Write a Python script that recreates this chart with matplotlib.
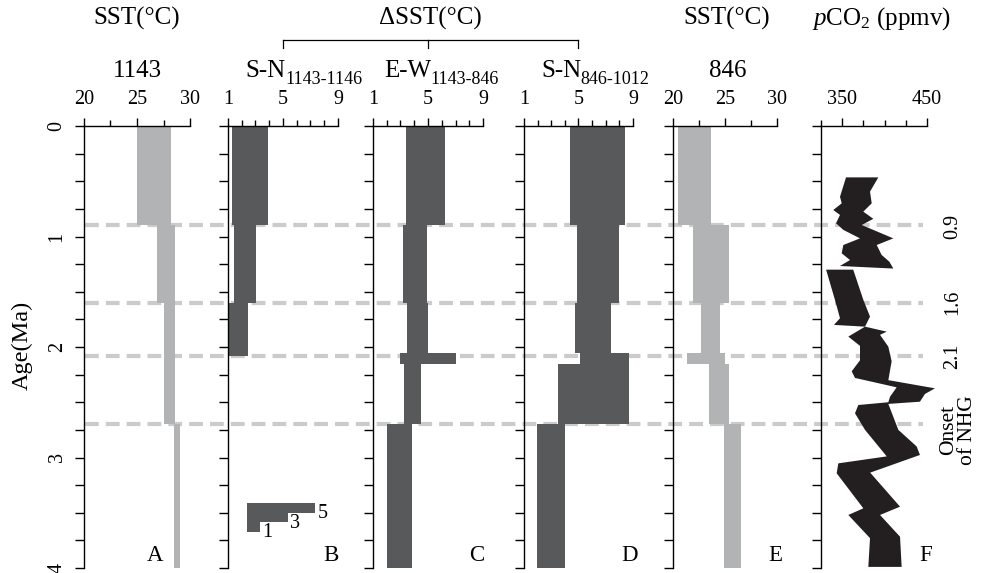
import matplotlib
matplotlib.use("Agg")
import matplotlib.pyplot as plt
from matplotlib.lines import Line2D
from matplotlib.transforms import blended_transform_factory

plt.rcParams['font.family'] = ['Liberation Serif', 'DejaVu Serif']
plt.rcParams['mathtext.fontset'] = 'custom'
plt.rcParams['mathtext.rm'] = 'Liberation Serif'
plt.rcParams['mathtext.it'] = 'Liberation Serif:italic'

# ---- data (age in Ma) ----
# A: SST site 1143
a_top = [0.0, 0.9, 1.6, 2.7]
a_bot = [0.9, 1.6, 2.7, 4.0]
a_lo = [25.0, 26.9, 27.5, 28.45]
a_hi = [28.2, 28.55, 28.55, 29.05]

# B: dSST S-N 1143-1146
b_top = [0.0, 0.9, 1.6]
b_bot = [0.9, 1.6, 2.08]
b_lo = [1.3, 1.46, 1.0]
b_hi = [3.9, 3.04, 2.48]

# C: dSST E-W 1143-846
c_top = [0.0, 0.9, 1.6, 2.05, 2.15, 2.7]
c_bot = [0.9, 1.6, 2.05, 2.15, 2.7, 4.0]
c_lo = [3.42, 3.2, 3.45, 2.96, 3.28, 2.0]
c_hi = [6.24, 4.93, 5.02, 7.01, 4.49, 3.81]

# D: dSST S-N 846-1012
d_top = [0.0, 0.9, 1.6, 2.05, 2.15, 2.7]
d_bot = [0.9, 1.6, 2.05, 2.15, 2.7, 4.0]
d_lo = [4.37, 4.9, 4.71, 5.12, 3.5, 1.95]
d_hi = [8.42, 7.98, 7.42, 8.73, 8.73, 3.98]

# E: SST site 846
e_top = [0.0, 0.9, 1.6, 2.05, 2.15, 2.7]
e_bot = [0.9, 1.6, 2.05, 2.15, 2.7, 4.0]
e_lo = [20.45, 21.92, 22.72, 21.37, 23.43, 24.9]
e_hi = [23.62, 25.38, 24.49, 25.0, 25.38, 26.54]

# F: pCO2 envelope, two pieces (left edge / right edge)
f1_left_age = [0.465, 0.64, 0.70, 0.76, 0.805, 0.88, 0.94, 1.017, 1.077, 1.152, 1.213, 1.267, 1.29]
f1_left_co2 = [354.5, 347.4, 349.4, 339.5, 347.4, 342.7, 351.3, 371.0, 351.3, 349.4, 359.2, 347.4, 410.3]
f1_right_age = [0.465, 0.594, 0.70, 0.775, 0.84, 0.896, 1.017, 1.077, 1.167, 1.228, 1.29]
f1_right_co2 = [392.6, 382.8, 384.8, 374.9, 386.7, 373.0, 410.3, 390.7, 396.5, 405.6, 410.3]

f2_left_age = [1.30, 1.575, 1.74, 1.80, 1.816, 1.906, 1.99, 2.12, 2.22, 2.28, 2.365, 2.45, 2.50,
               2.525, 2.60, 2.75, 2.99, 3.053, 3.143, 3.46, 3.52, 3.73, 3.99]
f2_left_co2 = [331.0, 341.5, 347.4, 340.3, 376.9, 357.2, 371.0, 371.0, 361.2, 365.1, 414.2, 406.4, 404.4,
               369.0, 365.1, 376.9, 402.5, 345.4, 343.5, 374.9, 357.2, 382.8, 380.8]
f2_right_age = [1.30, 1.575, 1.725, 1.816, 1.861, 1.89, 1.997, 2.13, 2.30, 2.374, 2.425, 2.495, 2.515,
                2.75, 2.90, 2.977, 3.137, 3.445, 3.52, 3.717, 3.99]
f2_right_co2 = [363.0, 375.0, 382.8, 376.9, 402.5, 394.6, 404.4, 408.3, 404.4, 459.4, 447.6, 441.7, 404.4,
                416.2, 437.8, 441.7, 383.0, 418.2, 394.6, 418.2, 420.1]

event_ages = [0.9, 1.6, 2.08, 2.7]
event_labels = ['0.9', '1.6', '2.1', 'Onset\nof NHG']
event_label_ages = [0.91, 1.6, 2.086, 2.75]

scale_widths = [5, 3, 1]

LIGHT = '#b2b3b5'
DARK = '#58595b'
BLACK = '#231f20'
DASH = '#cbcbcb'

W, H = 987, 573
fig = plt.figure(figsize=(W / 100, H / 100), dpi=100)
Y0, Y1 = 126, 568


def add_panel(x0, x1):
    ax = fig.add_axes([x0 / W, 1 - Y1 / H, (x1 - x0) / W, (Y1 - Y0) / H])
    ax.set_facecolor('none')
    ax.set_ylim(4, 0)
    for s in ['right', 'bottom']:
        ax.spines[s].set_visible(False)
    for s in ['left', 'top']:
        ax.spines[s].set_linewidth(1.0)
    ax.xaxis.tick_top()
    ax.set_yticks([0, 1, 2, 3, 4])
    ax.set_yticks([i * 0.25 for i in range(17)], minor=True)
    ax.tick_params(axis='x', which='major', direction='out', length=6, width=1,
                   labelsize=14.5, pad=6)
    ax.tick_params(axis='x', which='minor', direction='out', length=4.5, width=1)
    ax.tick_params(axis='y', which='both', direction='out', length=6.5, width=1,
                   labelleft=False)
    return ax


axA = add_panel(84, 190)
axB = add_panel(228, 338)
axC = add_panel(373, 483)
axD = add_panel(524, 633)
axE = add_panel(673, 777)
axF = add_panel(821, 927)

for ax in [axA, axE]:
    ax.set_xlim(20, 30)
    ax.set_xticks([20, 25, 30])
    ax.set_xticks([22.5, 27.5], minor=True)
for ax in [axB, axC, axD]:
    ax.set_xlim(1, 9)
    ax.set_xticks([1, 5, 9])
    ax.set_xticks([2, 3, 4, 6, 7, 8], minor=True)
axF.set_xlim(325, 450)
axF.set_xticks([350, 450])
axF.set_xticks([325, 375, 400, 425], minor=True)

axA.tick_params(axis='y', which='major', labelleft=True, labelsize=14.5,
                labelrotation=90, pad=6)
for lab in axA.get_yticklabels():
    lab.set_va('center')

# step bars
for ax, top, bot, lo, hi, col in [(axA, a_top, a_bot, a_lo, a_hi, LIGHT),
                                  (axB, b_top, b_bot, b_lo, b_hi, DARK),
                                  (axC, c_top, c_bot, c_lo, c_hi, DARK),
                                  (axD, d_top, d_bot, d_lo, d_hi, DARK),
                                  (axE, e_top, e_bot, e_lo, e_hi, LIGHT)]:
    ax.barh(top, [h - l for l, h in zip(lo, hi)], left=lo,
            height=[b - t for t, b in zip(top, bot)], align='edge',
            color=col, linewidth=0, zorder=2)

# pCO2 envelope
axF.fill(f1_left_co2 + f1_right_co2[::-1], f1_left_age + f1_right_age[::-1],
         color=BLACK, linewidth=0, clip_on=False, zorder=2)
axF.fill(f2_left_co2 + f2_right_co2[::-1], f2_left_age + f2_right_age[::-1],
         color=BLACK, linewidth=0, clip_on=False, zorder=2)

# scale bar in B
sx = 2.35
st = 3.414
for i, w in enumerate(scale_widths):
    axB.barh(st + i * 0.086, w, left=sx, height=0.086, align='edge',
             color=DARK, linewidth=0)
    axB.text(sx + w + 0.15, st + (i + 1) * 0.086 + 0.01, str(w), fontsize=14.5,
             ha='left', va='center')

# panel letters
for ax, letter, xf in [(axA, 'A', 0.67), (axB, 'B', 0.936), (axC, 'C', 0.943),
                       (axD, 'D', 0.964), (axE, 'E', 0.98), (axF, 'F', 0.988)]:
    ax.text(xf, 0.029, letter, transform=ax.transAxes, ha='center', va='center',
            fontsize=16.5)

# dashed event lines across panels
tr = blended_transform_factory(fig.transFigure, axA.transData)
for age in event_ages:
    fig.add_artist(Line2D([85 / W, 923 / W], [age, age], transform=tr,
                          color=DASH, lw=3, linestyle=(0, (3.3, 1.7)), zorder=-1))

# event labels to the right of panel F (one rotated text per line)
trF = blended_transform_factory(axF.transAxes, axF.transData)
for lab, age in zip(event_labels, event_label_ages):
    lines = lab.split('\n')
    for j, line in enumerate(lines):
        xpx = (949 + 19 * j) if len(lines) > 1 else 953
        axF.text((xpx - 821) / 106, age, line, transform=trF, rotation=90,
                 ha='center', va='center', fontsize=15.5 if len(lines) > 1 else 14.5,
                 clip_on=False)

fig.text(22 / W, 1 - 345 / H, 'Age(Ma)', rotation=90, ha='center', va='center',
         fontsize=17.5)


# headers
def fx(ax, x):
    return fig.transFigure.inverted().transform(ax.transData.transform((x, 0)))[0]


def fy(py):
    return 1 - py / H


HF = 18
fig.text(fx(axA, 25), fy(25), 'SST(°C)', ha='center', va='baseline', fontsize=HF)
fig.text(fx(axA, 25), fy(77), '1143', ha='center', va='baseline', fontsize=HF)
fig.text(fx(axE, 25) + 2 / W, fy(25), 'SST(°C)', ha='center', va='baseline', fontsize=HF)
fig.text(fx(axE, 25) + 3 / W, fy(77), '846', ha='center', va='baseline', fontsize=HF)
fig.text(882 / W, fy(25), r'$p$CO$_2$ (ppmv)', ha='center', va='baseline', fontsize=HF)
fig.text(fx(axC, 5) + 2 / W, fy(25), 'ΔSST(°C)', ha='center', va='baseline', fontsize=HF)

for ax, main, sub in [(axB, 'S-N', '1143-1146'), (axC, 'E-W', '1143-846'),
                      (axD, 'S-N', '846-1012')]:
    xs = fx(ax, 5) + 3 / W
    fig.text(xs, fy(77), main, ha='right', va='baseline', fontsize=HF)
    fig.text(xs - 1 / W, fy(84), sub, ha='left', va='baseline', fontsize=13)

# bracket over the difference panels
xb, xc, xd = fx(axB, 5), fx(axC, 5), fx(axD, 5)
fig.add_artist(Line2D([xb, xd], [fy(40), fy(40)], color='black', lw=0.9))
for x in [xb, xc, xd]:
    fig.add_artist(Line2D([x, x], [fy(40), fy(48)], color='black', lw=0.9))

fig.savefig('out.png', dpi=100)
